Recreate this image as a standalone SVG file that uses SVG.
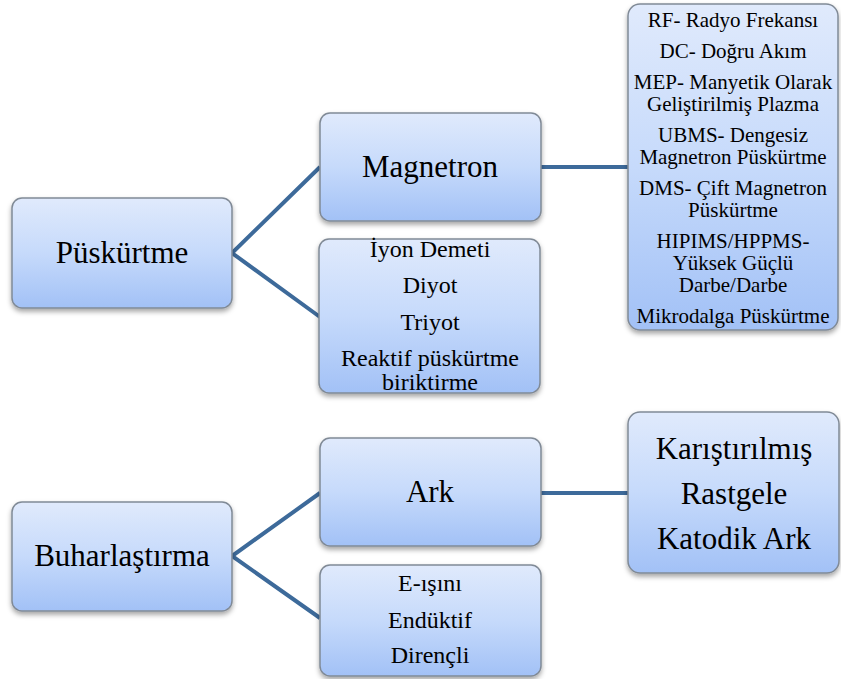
<svg xmlns="http://www.w3.org/2000/svg" width="841" height="679" viewBox="0 0 841 679">
<defs>
<linearGradient id="g" x1="0" y1="0" x2="0" y2="1">
<stop offset="0" stop-color="#e0eafc"/>
<stop offset="0.5" stop-color="#c6dafb"/>
<stop offset="1" stop-color="#a2c1f6"/>
</linearGradient>
<filter id="sh" x="-10%" y="-10%" width="120%" height="130%">
<feDropShadow dx="0" dy="3" stdDeviation="2.5" flood-color="#000" flood-opacity="0.35"/>
</filter>
</defs>
<rect width="841" height="679" fill="#fff"/>
<g id="connectors" stroke="#3d6a9a" stroke-width="4" fill="none">
<polyline points="320,167 232,253 320,317"/>
<line x1="541" y1="167" x2="628" y2="167"/>
<polyline points="320,493 232,556 320,618"/>
<line x1="541" y1="493" x2="628" y2="493"/>
</g>
<g id="nodes" font-family="Liberation Serif, serif" text-anchor="middle" fill="#000">
<g id="puskurtme">
<rect x="12" y="198" width="220" height="110" rx="10" fill="url(#g)" stroke="#808a96" stroke-width="1.5" filter="url(#sh)"/>
<text x="122" y="263" font-size="31">Püskürtme</text>
</g>
<g id="magnetron">
<rect x="320" y="113" width="221" height="108" rx="10" fill="url(#g)" stroke="#808a96" stroke-width="1.5" filter="url(#sh)"/>
<text x="430" y="177" font-size="31">Magnetron</text>
</g>
<g id="diger" font-size="24">
<rect x="319" y="239" width="221" height="154" rx="10" fill="url(#g)" stroke="#808a96" stroke-width="1.5" filter="url(#sh)"/>
<text x="430" y="257">İyon Demeti</text>
<text x="430" y="293">Diyot</text>
<text x="430" y="330">Triyot</text>
<text x="430" y="366">Reaktif püskürtme</text>
<text x="430" y="390">biriktirme</text>
</g>
<g id="magnetron-turleri" font-size="21">
<rect x="628" y="4" width="210" height="326" rx="12" fill="url(#g)" stroke="#808a96" stroke-width="1.5" filter="url(#sh)"/>
<text x="733" y="27">RF- Radyo Frekansı</text>
<text x="733" y="58">DC- Doğru Akım</text>
<text x="733" y="89">MEP- Manyetik Olarak</text>
<text x="733" y="111">Geliştirilmiş Plazma</text>
<text x="733" y="142">UBMS- Dengesiz</text>
<text x="733" y="164">Magnetron Püskürtme</text>
<text x="733" y="195">DMS- Çift Magnetron</text>
<text x="733" y="217">Püskürtme</text>
<text x="733" y="248">HIPIMS/HPPMS-</text>
<text x="733" y="270">Yüksek Güçlü</text>
<text x="733" y="292">Darbe/Darbe</text>
<text x="733" y="323">Mikrodalga Püskürtme</text>
</g>
<g id="buharlastirma">
<rect x="12" y="502" width="220" height="109" rx="10" fill="url(#g)" stroke="#808a96" stroke-width="1.5" filter="url(#sh)"/>
<text x="122" y="566" font-size="31">Buharlaştırma</text>
</g>
<g id="ark">
<rect x="320" y="438" width="221" height="108" rx="10" fill="url(#g)" stroke="#808a96" stroke-width="1.5" filter="url(#sh)"/>
<text x="430" y="502" font-size="31">Ark</text>
</g>
<g id="eisini" font-size="24">
<rect x="320" y="565" width="221" height="111" rx="10" fill="url(#g)" stroke="#808a96" stroke-width="1.5" filter="url(#sh)"/>
<text x="430" y="591">E-ışını</text>
<text x="430" y="628">Endüktif</text>
<text x="430" y="663">Dirençli</text>
</g>
<g id="katodik-ark" font-size="31">
<rect x="628" y="412" width="211" height="161" rx="12" fill="url(#g)" stroke="#808a96" stroke-width="1.5" filter="url(#sh)"/>
<text x="734" y="459">Karıştırılmış</text>
<text x="734" y="504">Rastgele</text>
<text x="734" y="549">Katodik Ark</text>
</g>
</g>
</svg>
